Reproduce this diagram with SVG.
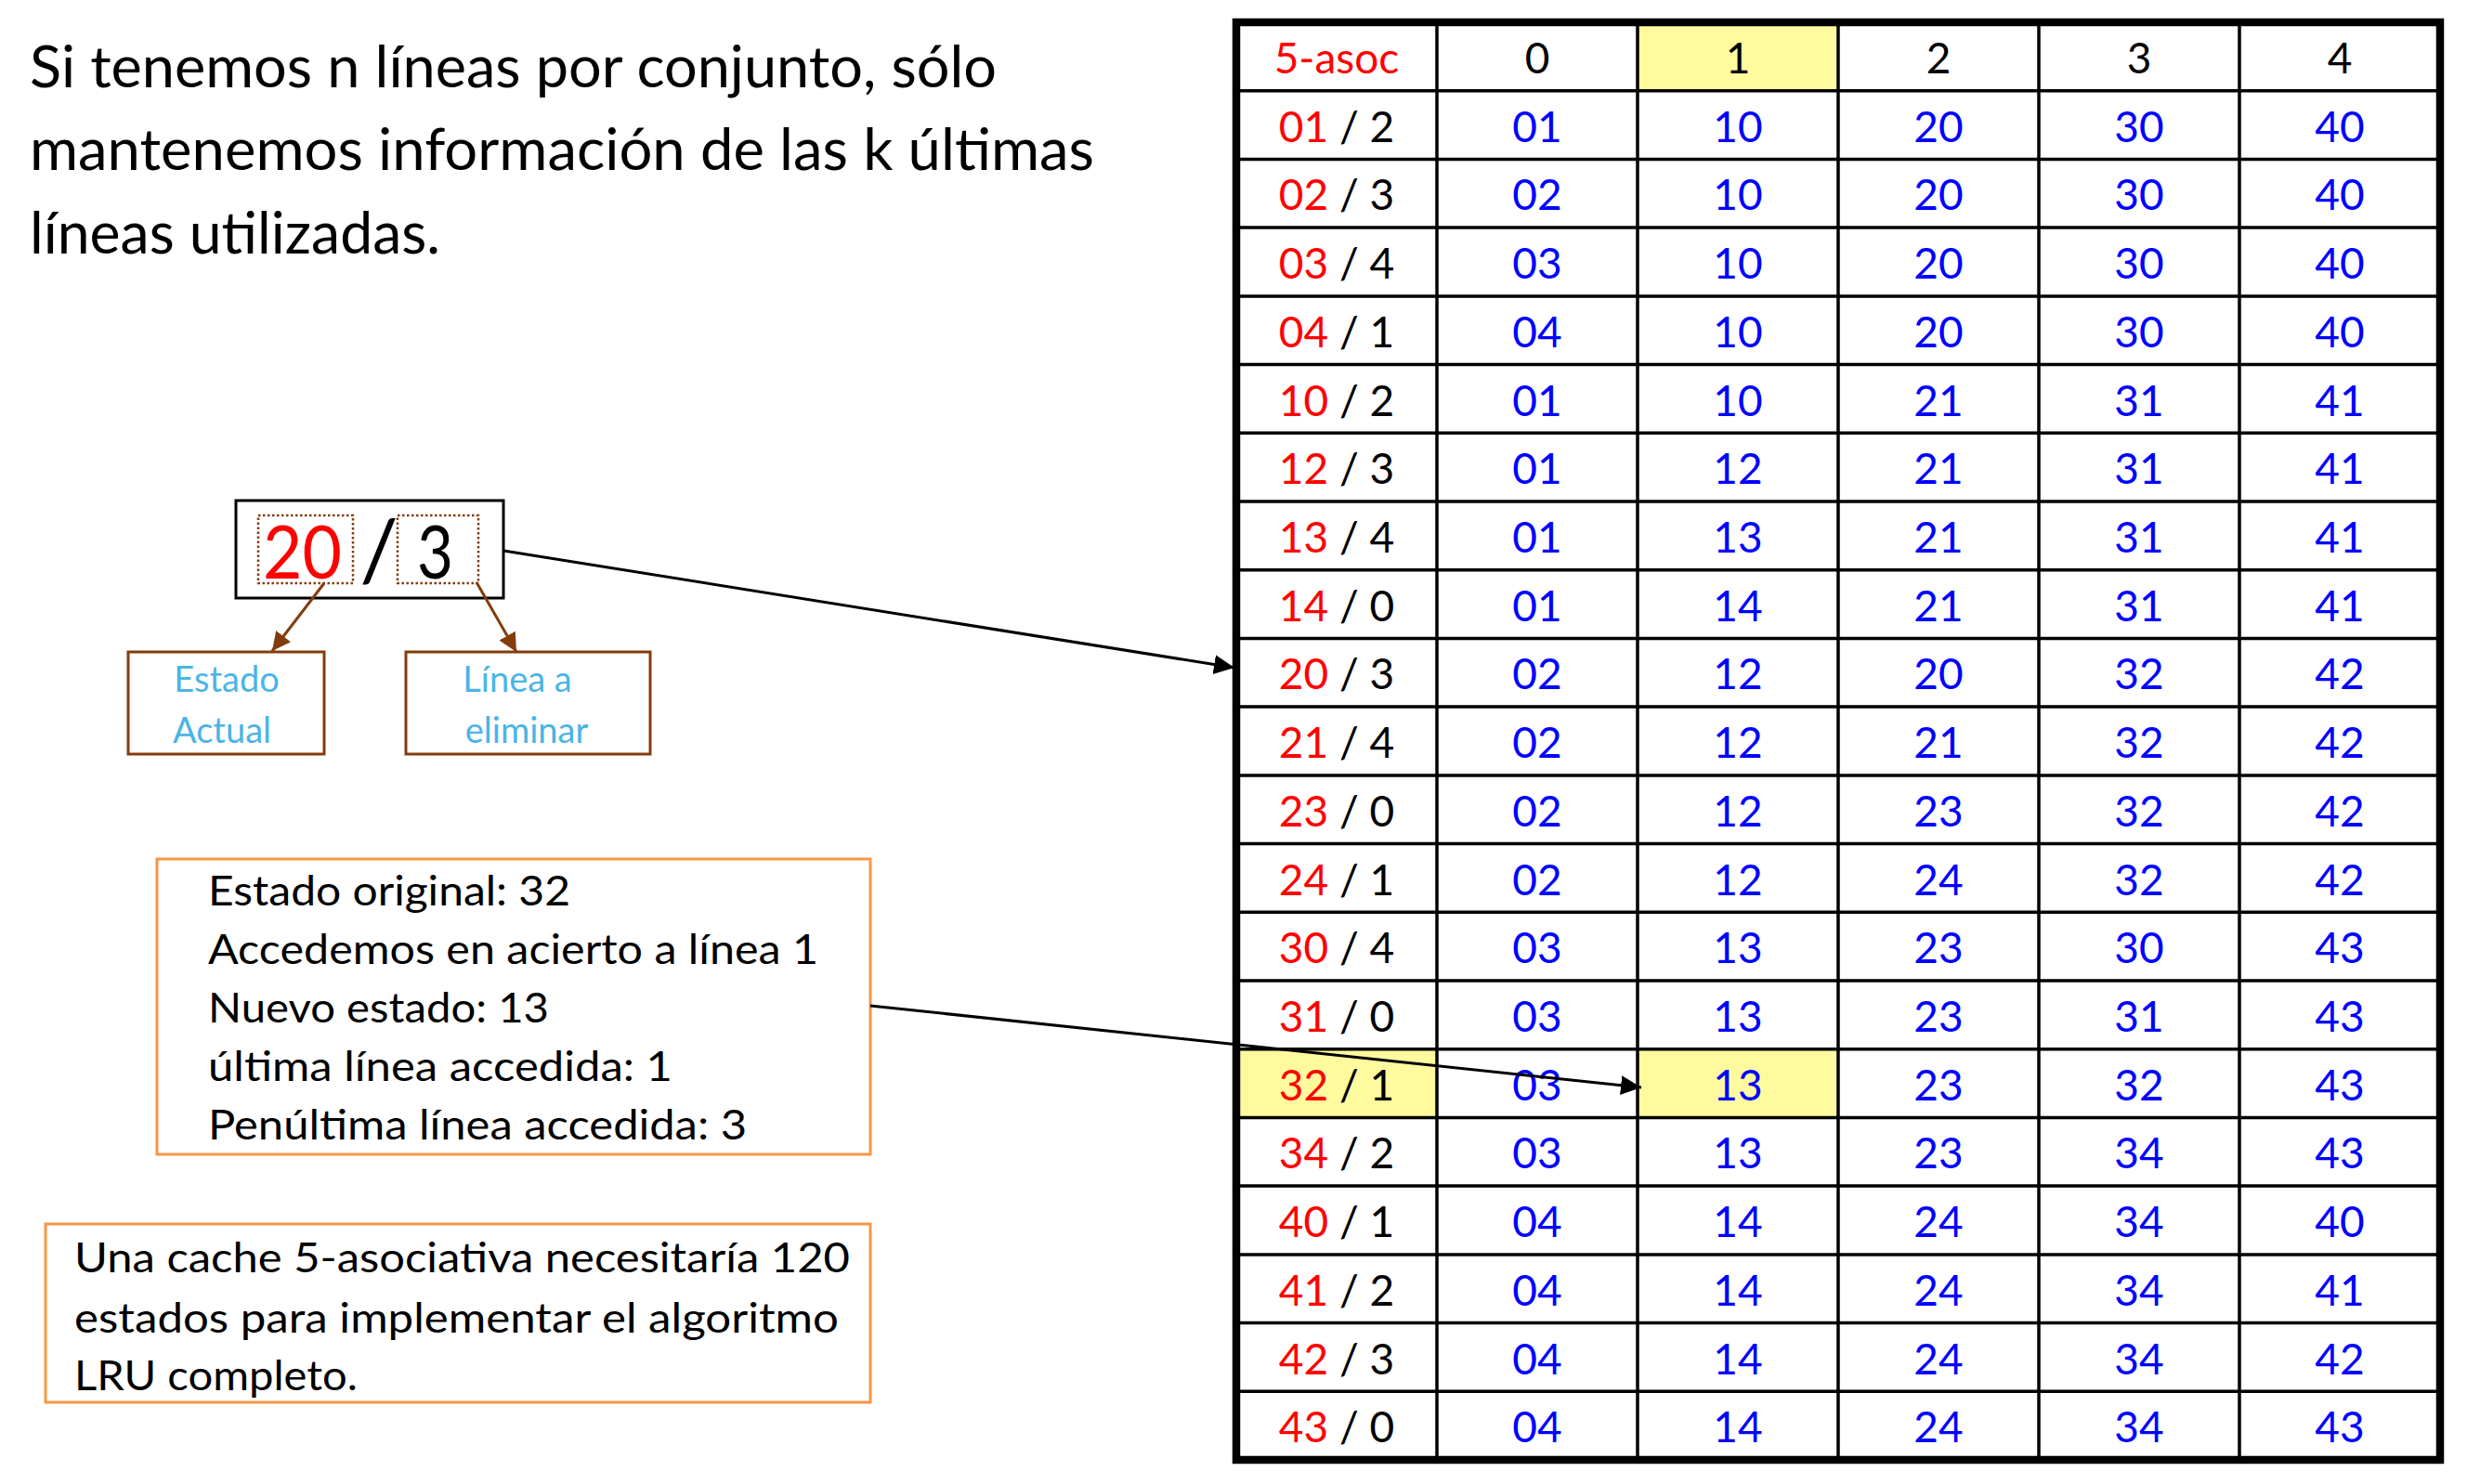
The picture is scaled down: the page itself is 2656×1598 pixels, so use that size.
<svg xmlns="http://www.w3.org/2000/svg" width="2656" height="1598" viewBox="0 0 2656 1598">
<style>
text{font-family:Lato,"Open Sans","Liberation Sans",sans-serif}
.t{font-size:61px;fill:#000}
.b{font-size:44px;fill:#000}
.lb{font-size:38px;fill:#4AB4E6;text-anchor:middle}
.c{font-size:46px;text-anchor:middle}
.r{fill:#FF0000}
.k{fill:#000}
.bl{fill:#0000FF}
.grid{stroke:#000;stroke-width:3.5;fill:none}
.brownbox{fill:#fff;stroke:#843C0C;stroke-width:3}
.orangebox{fill:#fff;stroke:#F79646;stroke-width:3}
.dot{fill:none;stroke:#843C0C;stroke-width:2.5;stroke-dasharray:2.5 2.5}
.yel{fill:#FFFA9E}
</style>
<defs>
<marker id="ah" markerUnits="userSpaceOnUse" markerWidth="24" markerHeight="24" refX="22" refY="10.5" orient="auto">
<path d="M0,0 L22,10.5 L0,21 Z" fill="#000"/>
</marker>
<marker id="ahb" markerUnits="userSpaceOnUse" markerWidth="24" markerHeight="24" refX="20" refY="10" orient="auto">
<path d="M0,0 L20,10 L0,20 Z" fill="#843C0C"/>
</marker>
</defs>
<rect width="2656" height="1598" fill="#fff"/>

<g id="title">
<text class="t" x="32" y="94" textLength="1041" lengthAdjust="spacingAndGlyphs">Si tenemos n líneas por conjunto, sólo</text>
<text class="t" x="32" y="183" textLength="1146" lengthAdjust="spacingAndGlyphs">mantenemos información de las k últimas</text>
<text class="t" x="32" y="273" textLength="442" lengthAdjust="spacingAndGlyphs">líneas utilizadas.</text>
</g>

<g id="state-box">
<rect x="254" y="539" width="288" height="105" fill="#fff" stroke="#000" stroke-width="3"/>
<rect class="dot" x="278" y="555" width="102" height="73"/>
<rect class="dot" x="428" y="555" width="87" height="73"/>
<text x="283" y="623" font-size="80" fill="#FF0000" textLength="85" lengthAdjust="spacingAndGlyphs">20</text>
<text x="408" y="625" font-size="92" fill="#000" text-anchor="middle">/</text>
<text x="449" y="623" font-size="80" fill="#000" textLength="39" lengthAdjust="spacingAndGlyphs">3</text>
</g>

<g id="label-estado">
<rect class="brownbox" x="138" y="702" width="211" height="110"/>
<text class="lb" x="244" y="745">Estado</text>
<text class="lb" x="239" y="800">Actual</text>
</g>

<g id="label-linea">
<rect class="brownbox" x="437" y="702" width="263" height="110"/>
<text class="lb" x="557" y="745">Línea a</text>
<text class="lb" x="567" y="800">eliminar</text>
</g>

<g id="note-example">
<rect class="orangebox" x="169" y="925" width="768" height="318"/>
<text class="b" x="224" y="975" textLength="390" lengthAdjust="spacingAndGlyphs">Estado original: 32</text>
<text class="b" x="224" y="1038" textLength="657" lengthAdjust="spacingAndGlyphs">Accedemos en acierto a línea 1</text>
<text class="b" x="224" y="1101" textLength="367" lengthAdjust="spacingAndGlyphs">Nuevo estado: 13</text>
<text class="b" x="224" y="1164" textLength="500" lengthAdjust="spacingAndGlyphs">última línea accedida: 1</text>
<text class="b" x="224" y="1227" textLength="580" lengthAdjust="spacingAndGlyphs">Penúltima línea accedida: 3</text>
</g>

<g id="note-states">
<rect class="orangebox" x="49" y="1318" width="888" height="192"/>
<text class="b" x="80" y="1370" textLength="835" lengthAdjust="spacingAndGlyphs">Una cache 5-asociativa necesitaría 120</text>
<text class="b" x="80" y="1435" textLength="823" lengthAdjust="spacingAndGlyphs">estados para implementar el algoritmo</text>
<text class="b" x="80" y="1497" textLength="305" lengthAdjust="spacingAndGlyphs">LRU completo.</text>
</g>

<g id="table">
<rect class="yel" x="1763" y="24" width="216" height="73.7"/>
<rect class="yel" x="1331" y="1129.7" width="216" height="73.7"/>
<rect class="yel" x="1763" y="1129.7" width="216" height="73.7"/>
<g class="grid">
<path d="M1547,24V1572M1763,24V1572M1979,24V1572M2195,24V1572M2411,24V1572"/>
<path d="M1331,97.7H2627M1331,171.4H2627M1331,245.1H2627M1331,318.9H2627M1331,392.6H2627M1331,466.3H2627M1331,540H2627M1331,613.7H2627M1331,687.4H2627M1331,761.1H2627M1331,834.9H2627M1331,908.6H2627M1331,982.3H2627M1331,1056H2627M1331,1129.7H2627M1331,1203.4H2627M1331,1277.1H2627M1331,1350.9H2627M1331,1424.6H2627M1331,1498.3H2627"/>
</g>
<rect x="1331" y="24" width="1296" height="1548" fill="none" stroke="#000" stroke-width="8.5"/>

<g class="c">
<text x="1439" y="79" class="r">5-asoc</text>
<text x="1655" y="79" class="k">0</text>
<text x="1871" y="79" class="k">1</text>
<text x="2087" y="79" class="k">2</text>
<text x="2303" y="79" class="k">3</text>
<text x="2519" y="79" class="k">4</text>
</g>

<g class="c">
<text x="1439" y="152.7"><tspan class="r">01</tspan><tspan class="k"> / 2</tspan></text>
<text x="1439" y="226.4"><tspan class="r">02</tspan><tspan class="k"> / 3</tspan></text>
<text x="1439" y="300.1"><tspan class="r">03</tspan><tspan class="k"> / 4</tspan></text>
<text x="1439" y="373.9"><tspan class="r">04</tspan><tspan class="k"> / 1</tspan></text>
<text x="1439" y="447.6"><tspan class="r">10</tspan><tspan class="k"> / 2</tspan></text>
<text x="1439" y="521.3"><tspan class="r">12</tspan><tspan class="k"> / 3</tspan></text>
<text x="1439" y="595"><tspan class="r">13</tspan><tspan class="k"> / 4</tspan></text>
<text x="1439" y="668.7"><tspan class="r">14</tspan><tspan class="k"> / 0</tspan></text>
<text x="1439" y="742.4"><tspan class="r">20</tspan><tspan class="k"> / 3</tspan></text>
<text x="1439" y="816.1"><tspan class="r">21</tspan><tspan class="k"> / 4</tspan></text>
<text x="1439" y="889.9"><tspan class="r">23</tspan><tspan class="k"> / 0</tspan></text>
<text x="1439" y="963.6"><tspan class="r">24</tspan><tspan class="k"> / 1</tspan></text>
<text x="1439" y="1037.3"><tspan class="r">30</tspan><tspan class="k"> / 4</tspan></text>
<text x="1439" y="1111"><tspan class="r">31</tspan><tspan class="k"> / 0</tspan></text>
<text x="1439" y="1184.7"><tspan class="r">32</tspan><tspan class="k"> / 1</tspan></text>
<text x="1439" y="1258.4"><tspan class="r">34</tspan><tspan class="k"> / 2</tspan></text>
<text x="1439" y="1332.1"><tspan class="r">40</tspan><tspan class="k"> / 1</tspan></text>
<text x="1439" y="1405.9"><tspan class="r">41</tspan><tspan class="k"> / 2</tspan></text>
<text x="1439" y="1479.6"><tspan class="r">42</tspan><tspan class="k"> / 3</tspan></text>
<text x="1439" y="1553.3"><tspan class="r">43</tspan><tspan class="k"> / 0</tspan></text>
</g>

<g class="c bl">
<text x="1655" y="152.7">01</text><text x="1871" y="152.7">10</text><text x="2087" y="152.7">20</text><text x="2303" y="152.7">30</text><text x="2519" y="152.7">40</text>
<text x="1655" y="226.4">02</text><text x="1871" y="226.4">10</text><text x="2087" y="226.4">20</text><text x="2303" y="226.4">30</text><text x="2519" y="226.4">40</text>
<text x="1655" y="300.1">03</text><text x="1871" y="300.1">10</text><text x="2087" y="300.1">20</text><text x="2303" y="300.1">30</text><text x="2519" y="300.1">40</text>
<text x="1655" y="373.9">04</text><text x="1871" y="373.9">10</text><text x="2087" y="373.9">20</text><text x="2303" y="373.9">30</text><text x="2519" y="373.9">40</text>
<text x="1655" y="447.6">01</text><text x="1871" y="447.6">10</text><text x="2087" y="447.6">21</text><text x="2303" y="447.6">31</text><text x="2519" y="447.6">41</text>
<text x="1655" y="521.3">01</text><text x="1871" y="521.3">12</text><text x="2087" y="521.3">21</text><text x="2303" y="521.3">31</text><text x="2519" y="521.3">41</text>
<text x="1655" y="595">01</text><text x="1871" y="595">13</text><text x="2087" y="595">21</text><text x="2303" y="595">31</text><text x="2519" y="595">41</text>
<text x="1655" y="668.7">01</text><text x="1871" y="668.7">14</text><text x="2087" y="668.7">21</text><text x="2303" y="668.7">31</text><text x="2519" y="668.7">41</text>
<text x="1655" y="742.4">02</text><text x="1871" y="742.4">12</text><text x="2087" y="742.4">20</text><text x="2303" y="742.4">32</text><text x="2519" y="742.4">42</text>
<text x="1655" y="816.1">02</text><text x="1871" y="816.1">12</text><text x="2087" y="816.1">21</text><text x="2303" y="816.1">32</text><text x="2519" y="816.1">42</text>
<text x="1655" y="889.9">02</text><text x="1871" y="889.9">12</text><text x="2087" y="889.9">23</text><text x="2303" y="889.9">32</text><text x="2519" y="889.9">42</text>
<text x="1655" y="963.6">02</text><text x="1871" y="963.6">12</text><text x="2087" y="963.6">24</text><text x="2303" y="963.6">32</text><text x="2519" y="963.6">42</text>
<text x="1655" y="1037.3">03</text><text x="1871" y="1037.3">13</text><text x="2087" y="1037.3">23</text><text x="2303" y="1037.3">30</text><text x="2519" y="1037.3">43</text>
<text x="1655" y="1111">03</text><text x="1871" y="1111">13</text><text x="2087" y="1111">23</text><text x="2303" y="1111">31</text><text x="2519" y="1111">43</text>
<text x="1655" y="1184.7">03</text><text x="1871" y="1184.7">13</text><text x="2087" y="1184.7">23</text><text x="2303" y="1184.7">32</text><text x="2519" y="1184.7">43</text>
<text x="1655" y="1258.4">03</text><text x="1871" y="1258.4">13</text><text x="2087" y="1258.4">23</text><text x="2303" y="1258.4">34</text><text x="2519" y="1258.4">43</text>
<text x="1655" y="1332.1">04</text><text x="1871" y="1332.1">14</text><text x="2087" y="1332.1">24</text><text x="2303" y="1332.1">34</text><text x="2519" y="1332.1">40</text>
<text x="1655" y="1405.9">04</text><text x="1871" y="1405.9">14</text><text x="2087" y="1405.9">24</text><text x="2303" y="1405.9">34</text><text x="2519" y="1405.9">41</text>
<text x="1655" y="1479.6">04</text><text x="1871" y="1479.6">14</text><text x="2087" y="1479.6">24</text><text x="2303" y="1479.6">34</text><text x="2519" y="1479.6">42</text>
<text x="1655" y="1553.3">04</text><text x="1871" y="1553.3">14</text><text x="2087" y="1553.3">24</text><text x="2303" y="1553.3">34</text><text x="2519" y="1553.3">43</text>
</g>
</g>

<g id="connectors">
<line x1="542" y1="593" x2="1329" y2="719" stroke="#000" stroke-width="3" marker-end="url(#ah)"/>
<line x1="937" y1="1083" x2="1767" y2="1171" stroke="#000" stroke-width="3" marker-end="url(#ah)"/>
<line x1="349" y1="628" x2="293" y2="701" stroke="#843C0C" stroke-width="3" marker-end="url(#ahb)"/>
<line x1="513" y1="627" x2="556" y2="702" stroke="#843C0C" stroke-width="3" marker-end="url(#ahb)"/>
</g>
</svg>
